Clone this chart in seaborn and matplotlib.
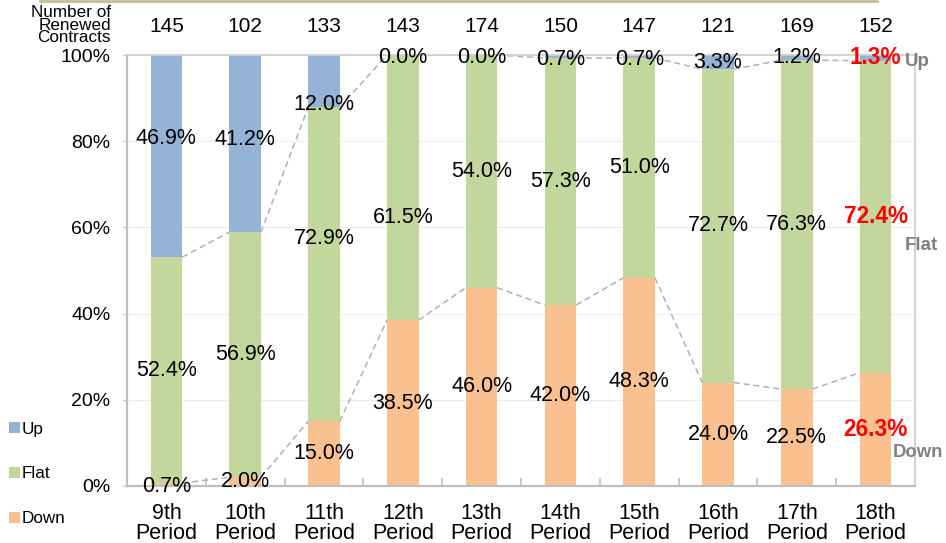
import matplotlib
matplotlib.use("Agg")
import matplotlib.pyplot as plt
import matplotlib.lines as mlines
from matplotlib.patches import Patch
import seaborn as sns
import pandas as pd
import numpy as np

periods = ["9th\nPeriod", "10th\nPeriod", "11th\nPeriod", "12th\nPeriod", "13th\nPeriod",
           "14th\nPeriod", "15th\nPeriod", "16th\nPeriod", "17th\nPeriod", "18th\nPeriod"]
up = [46.9, 41.2, 12.0, 0.0, 0.0, 0.7, 0.7, 3.3, 1.2, 1.3]
flat = [52.4, 56.9, 72.9, 61.5, 54.0, 57.3, 51.0, 72.7, 76.3, 72.4]
down = [0.7, 2.0, 15.0, 38.5, 46.0, 42.0, 48.3, 24.0, 22.5, 26.3]
counts = [145, 102, 133, 143, 174, 150, 147, 121, 169, 152]
series_names = ["Up", "Flat", "Down"]

C_UP, C_FLAT, C_DOWN = "#95B3D7", "#C3D69B", "#FAC090"

plt.rcParams['font.family'] = ['Liberation Sans', 'DejaVu Sans']

df = pd.DataFrame({"period": periods, "up": up, "flat": flat, "down": down})
df["cum_down"] = df["down"]
df["cum_flat"] = df["down"] + df["flat"]
df["cum_up"] = df["cum_flat"] + df["up"]

fig = plt.figure(figsize=(9.46, 5.43), dpi=100)
ax = fig.add_axes([127/946, 1-486/543, (915-127)/946, (486-55)/543])

W = 0.4
sns.barplot(data=df, x="period", y="cum_up", color=C_UP, width=W, ax=ax, saturation=1, order=periods)
sns.barplot(data=df, x="period", y="cum_flat", color=C_FLAT, width=W, ax=ax, saturation=1, order=periods)
sns.barplot(data=df, x="period", y="cum_down", color=C_DOWN, width=W, ax=ax, saturation=1, order=periods)

ax.set_xlim(-0.5, len(periods)-0.5)
ax.set_ylim(0, 100)
ax.set_xlabel("")
ax.set_ylabel("")

# connectors
n = len(periods)
for col in ["cum_down", "cum_flat"]:
    vals = df[col].values
    for i in range(n-1):
        ax.plot([i+W/2, i+1-W/2], [vals[i], vals[i+1]], color="#B0B0B0", lw=1.1,
                ls=(0, (4, 2.5)), zorder=1)

ax.set_yticks([0, 20, 40, 60, 80, 100])
ax.set_yticklabels(["0%", "20%", "40%", "60%", "80%", "100%"], fontsize=14)
ax.yaxis.grid(True, color="#EDEDED", lw=0.8, zorder=0)
ax.set_axisbelow(True)
ax.tick_params(axis="y", length=3, color="#BFBFBF", pad=9)
ax.tick_params(axis="x", length=0, labelsize=15.5, pad=12)
for lab in ax.get_xticklabels():
    lab.set_linespacing(0.95)
ax.set_xticks(np.arange(0.5, n-1, 1), minor=True)
ax.tick_params(axis="x", which="minor", direction="in", length=6, color="#BFBFBF", width=1.2)
for s in ["left", "bottom"]:
    ax.spines[s].set_color("#BFBFBF")
    ax.spines[s].set_linewidth(1.6)
for s in ["top", "right"]:
    ax.spines[s].set_color("#D0D0D0")
    ax.spines[s].set_linewidth(1.3)

# label nudges (in % units) for a few segment labels
nudge = {("up", 0): 4.0, ("up", 1): 1.0, ("up", 2): -5.5, ("flat", 2): 6.0, ("flat", 3): -7.0,
         ("up", 3): -0.5, ("up", 4): -0.5, ("up", 5): -0.8, ("up", 6): -0.8, ("down", 0): -0.4}

for i in range(n):
    segs = [("down", 0, df["down"][i]), ("flat", df["cum_down"][i], df["flat"][i]),
            ("up", df["cum_flat"][i], df["up"][i])]
    for key, base, v in segs:
        y = base + v/2 + nudge.get((key, i), 0)
        if i == n-1:
            ax.text(i, y, f"{v:.1f}%", ha="center", va="center", fontsize=16.3,
                    fontweight="bold", color="#FF0000", zorder=5)
        else:
            ax.text(i, y, f"{v:.1f}%", ha="center", va="center", fontsize=15.5,
                    color="black", zorder=5)
    ax.text(i, 106.5, str(counts[i]), ha="center", va="center", fontsize=15, clip_on=False)

# right side series labels
ax.text(9.37, 98.6, "Up", ha="left", va="center", fontsize=13.5, fontweight="bold", color="#808080", clip_on=False)
ax.text(9.37, 55.9, "Flat", ha="left", va="center", fontsize=13.5, fontweight="bold", color="#808080", clip_on=False)
ax.text(9.22, 7.7, "Down", ha="left", va="center", fontsize=13.3, fontweight="bold", color="#808080", clip_on=False)

fig.text(111/946, 1-25/543, "Number of\nRenewed\nContracts", ha="right", va="center",
         fontsize=12.3, linespacing=0.78)

handles = [Patch(facecolor=c, edgecolor="none") for c in [C_UP, C_FLAT, C_DOWN]]
fig.legend(handles, series_names, loc="center left", bbox_to_anchor=(0.0, 1-474/543),
           frameon=False, fontsize=12.3, handlelength=0.65, handleheight=0.65,
           handletextpad=0.1, labelspacing=1.75, borderaxespad=0, borderpad=0.5)

fig.add_artist(mlines.Line2D([40/946, 877/946], [0.999, 0.999], color="#C4BD97", lw=2.0))

fig.savefig("out.png", dpi=100)
